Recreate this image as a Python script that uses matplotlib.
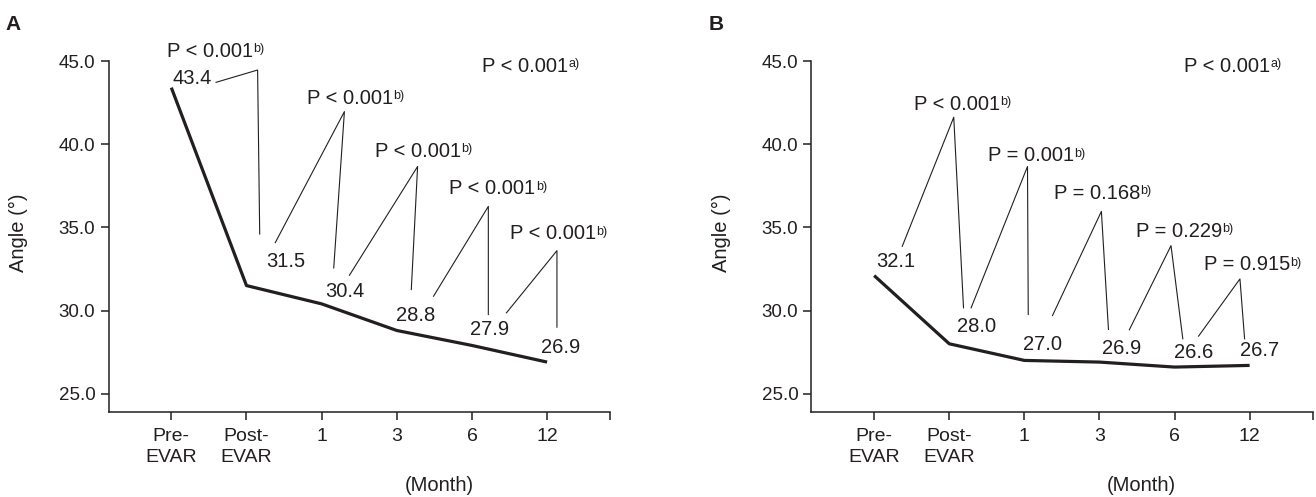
import matplotlib
matplotlib.use("Agg")
import matplotlib.pyplot as plt

plt.rcParams['font.family'] = ['Liberation Sans', 'DejaVu Sans']

categories = ["Pre-\nEVAR", "Post-\nEVAR", "1", "3", "6", "12"]
angle_a = [43.4, 31.5, 30.4, 28.8, 27.9, 26.9]
angle_b = [32.1, 28.0, 27.0, 26.9, 26.6, 26.7]
p_pair_a = ["P < 0.001", "P < 0.001", "P < 0.001", "P < 0.001", "P < 0.001"]
p_pair_b = ["P < 0.001", "P = 0.001", "P = 0.168", "P = 0.229", "P = 0.915"]
p_overall = "P < 0.001"

# label layout (data coords): value labels centre-x / baseline-y, P labels left-x / baseline-y
val_pos_a = [(0.28, 43.64), (1.52, 32.62), (2.31, 30.8), (3.25, 29.36), (4.24, 28.52), (5.18, 27.42)]
val_pos_b = [(0.29, 32.62), (1.37, 28.7), (2.24, 27.62), (3.30, 27.36), (4.26, 27.16), (5.13, 27.26)]
p_pos_a = [(-0.06, 45.26), (1.80, 42.44), (2.71, 39.26), (3.70, 36.98), (4.51, 34.28)]
p_pos_b = [(0.53, 42.06), (1.51, 38.96), (2.39, 36.70), (3.49, 34.44), (4.39, 32.42)]
overall_pos_a = (4.14, 44.36)
overall_pos_b = (4.13, 44.36)

# leader lines: start -> apex -> end
lead_a = [([0.595, 1.148, 1.176], [43.72, 44.46, 34.6]),
          ([1.383, 2.303, 2.161], [34.08, 41.96, 32.56]),
          ([2.37, 3.277, 3.193], [32.12, 38.66, 31.26]),
          ([3.489, 4.218, 4.218], [30.86, 36.26, 29.76]),
          ([4.459, 5.131, 5.131], [29.86, 33.6, 29.0])]
lead_b = [([0.374, 1.06, 1.19], [33.86, 41.62, 30.16]),
          ([1.291, 2.042, 2.052], [30.16, 38.66, 29.76]),
          ([2.375, 3.026, 3.12], [29.7, 35.96, 28.86]),
          ([3.398, 3.953, 4.11], [28.84, 33.9, 28.3]),
          ([4.32, 4.871, 4.933], [28.46, 31.9, 28.3])]

ink = '#231f20'
fs_ann = 14.5
fs_sup = 9
fs_xt = 14
fs_yt = 13.5


def p_text(ax, x, y, main, sup):
    t = ax.text(x, y, main, ha='left', va='baseline', fontsize=fs_ann,
                color=ink, clip_on=False)
    ax.annotate(sup, xy=(1.0, 0.93), xycoords=t, xytext=(0.1, 0),
                textcoords='offset points', ha='left', va='top',
                fontsize=fs_sup, color=ink, annotation_clip=False)


def draw_panel(ax, values, p_texts, val_pos, p_pos, overall_pos, leads, letter):
    x = list(range(len(categories)))
    ax.plot(x, values, color=ink, lw=2.3, solid_capstyle='butt', clip_on=False)

    for v, (px, py) in zip(values, val_pos):
        ax.text(px, py, f"{v:.1f}", ha='center', va='baseline', fontsize=fs_ann, color=ink)
    for t, (px, py) in zip(p_texts, p_pos):
        p_text(ax, px, py, t, "b)")
    p_text(ax, overall_pos[0], overall_pos[1], p_overall, "a)")
    for lx, ly in leads:
        ax.plot(lx, ly, color=ink, lw=0.8, clip_on=False)

    xmax = 5.84
    ax.set_xlim(-0.835, xmax)
    ax.set_ylim(23.88, 45.0)
    ax.set_yticks([25, 30, 35, 40, 45])
    ax.set_yticklabels([f"{t:.1f}" for t in [25, 30, 35, 40, 45]])
    ax.set_xticks(x + [xmax])
    ax.set_xticklabels(categories + [''], linespacing=1.32)
    for s in ['top', 'right']:
        ax.spines[s].set_visible(False)
    for s in ['left', 'bottom']:
        ax.spines[s].set_linewidth(1.1)
        ax.spines[s].set_color(ink)
    ax.tick_params(axis='both', length=5.5, width=1.1, color=ink, labelcolor=ink)
    ax.tick_params(axis='x', pad=6, labelsize=fs_xt)
    ax.tick_params(axis='y', pad=4, labelsize=fs_yt)
    ax.set_ylabel("Angle (°)", fontsize=fs_ann, color=ink)
    ax.yaxis.set_label_coords(-0.16, 0.51)
    ax.text(3.56, -0.207, "(Month)", transform=ax.get_xaxis_transform(),
            ha='center', va='center', fontsize=fs_ann, color=ink)
    ax.text(-0.205, 1.105, letter, transform=ax.transAxes, ha='left', va='center',
            fontsize=15, fontweight='bold', color=ink)


fig = plt.figure(figsize=(13.16, 4.97), dpi=100)
ax_a = fig.add_axes([0.0825, 0.1704, 0.3812, 0.7068])
ax_b = fig.add_axes([0.6166, 0.1704, 0.3809, 0.7068])

draw_panel(ax_a, angle_a, p_pair_a, val_pos_a, p_pos_a, overall_pos_a, lead_a, "A")
draw_panel(ax_b, angle_b, p_pair_b, val_pos_b, p_pos_b, overall_pos_b, lead_b, "B")

fig.savefig("out.png", dpi=100)
